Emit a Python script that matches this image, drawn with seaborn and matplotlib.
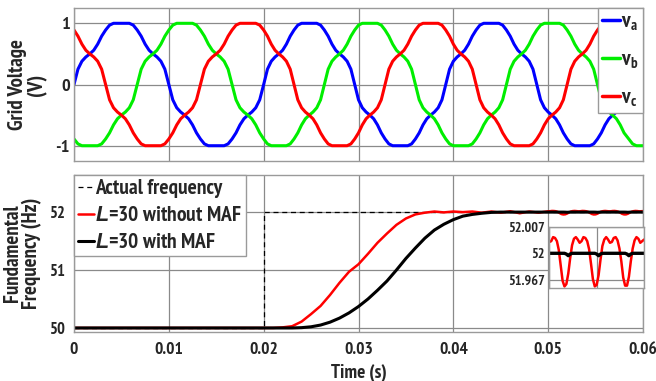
import numpy as np
import pandas as pd
import matplotlib
matplotlib.use("Agg")
import matplotlib.pyplot as plt
from matplotlib import font_manager as fm
import seaborn as sns

# ---------------- data ----------------
# one cycle of the (distorted) phase voltage, sampled every 7.5 degrees
wave_shape = [0.00, 0.25, 0.38, 0.45, 0.50, 0.56, 0.66, 0.79, 0.89, 0.97, 1.00, 1.00,
              1.00, 1.00, 1.00, 0.97, 0.89, 0.79, 0.66, 0.56, 0.50, 0.45, 0.38, 0.25,
              0.00, -0.25, -0.38, -0.45, -0.50, -0.56, -0.66, -0.79, -0.89, -0.97, -1.00, -1.00,
              -1.00, -1.00, -1.00, -0.97, -0.89, -0.79, -0.66, -0.56, -0.50, -0.45, -0.38, -0.25]
cycle_start_s = [0.0, 0.0200, 0.0392, 0.0585]
cycle_period_s = [0.0200, 0.0192, 0.0192, 0.0192]
phase_labels = ["v$_\\mathrm{a}$", "v$_\\mathrm{b}$", "v$_\\mathrm{c}$"]
phase_shift_samples = [0, 16, -16]
phase_colors = ["#0000ff", "#00ee00", "#ff0000"]

# frequency estimates, 1 ms steps from 0 to 49 ms
t_coarse_ms = list(range(0, 50))
red_coarse_hz = [50.0, 50.0, 50.0, 50.0, 50.0, 50.0, 50.0, 50.0, 50.0, 50.0,
                 50.0, 50.0, 50.0, 50.0, 50.0, 50.0, 50.0, 50.0, 50.0, 50.0,
                 50.0, 50.0, 50.01, 50.03, 50.11, 50.24, 50.38, 50.57, 50.78, 50.97,
                 51.10, 51.28, 51.47, 51.63, 51.78, 51.89, 51.96, 51.99, 52.01, 51.995,
                 52.01, 52.0, 52.01, 51.99, 52.01, 51.99, 52.015, 51.98, 52.01, 51.99]
black_coarse_hz = [50.0, 50.0, 50.0, 50.0, 50.0, 50.0, 50.0, 50.0, 50.0, 50.0,
                   50.0, 50.0, 50.0, 50.0, 50.0, 50.0, 50.0, 50.0, 50.0, 50.0,
                   50.0, 50.0, 50.0, 50.0, 50.005, 50.02, 50.05, 50.10, 50.17, 50.26,
                   50.37, 50.50, 50.65, 50.81, 51.00, 51.20, 51.38, 51.55, 51.69, 51.79,
                   51.87, 51.93, 51.96, 51.98, 51.995, 52.0, 52.0, 52.0, 52.0, 52.0]
# 0.2 ms steps from 50 ms to 60 ms (steady state, shown in the inset)
t_fine_ms = [50.0 + 0.2 * i for i in range(51)]
red_fine_hz = [52.014, 52.015, 52.020, 52.019, 52.015, 52.004, 51.985, 51.966, 51.959, 51.962,
               51.975, 51.994, 52.010, 52.018, 52.020, 52.017, 52.013, 52.015, 52.020, 52.019,
               52.015, 52.005, 51.987, 51.968, 51.959, 51.961, 51.973, 51.992, 52.009, 52.017,
               52.020, 52.017, 52.013, 52.014, 52.019, 52.020, 52.016, 52.006, 51.990, 51.970,
               51.960, 51.960, 51.971, 51.990, 52.006, 52.016, 52.020, 52.018, 52.013, 52.015,
               52.017]
black_fine_hz = [52.0, 52.0, 52.0, 52.0, 52.0, 52.0, 52.0, 52.0, 52.0, 51.999,
                 51.997, 51.999, 52.0, 52.0, 52.0, 52.0, 52.0, 52.0, 52.0, 52.0,
                 52.0, 52.0, 52.0, 52.0, 52.0, 51.999, 51.997, 51.999, 52.0, 52.0,
                 52.0, 52.0, 52.0, 52.0, 52.0, 52.0, 52.0, 52.0, 52.0, 52.0,
                 52.0, 51.999, 51.997, 51.999, 52.0, 52.0, 52.0, 52.0, 52.0, 52.0,
                 52.0]
actual_t_s = [0.0, 0.02, 0.02, 0.06]
actual_hz = [50.0, 50.0, 52.0, 52.0]
freq_labels = ["Actual frequency", "$\\mathit{L}$=30 without MAF", "$\\mathit{L}$=30 with MAF"]

x_ticks = [0, 0.01, 0.02, 0.03, 0.04, 0.05, 0.06]
x_ticklabels = ["0", "0.01", "0.02", "0.03", "0.04", "0.05", "0.06"]
inset_ticks = [51.967, 52.0, 52.0329]
inset_ticklabels = ["51.967", "52", "52.007"]

# ---------------- assemble series ----------------
n = len(wave_shape)
t_wave, phase_vals = [], [[], [], []]
for start, per in zip(cycle_start_s, cycle_period_s):
    t_wave.extend(start + per * np.arange(n) / n)
    for k, sh in enumerate(phase_shift_samples):
        phase_vals[k].extend(np.roll(wave_shape, sh))
t_wave = np.array(t_wave)

t_freq = np.array(t_coarse_ms + t_fine_ms) / 1000.0
red_hz = np.array(red_coarse_hz + red_fine_hz)
black_hz = np.array(black_coarse_hz + black_fine_hz)
t_fine = np.array(t_fine_ms) / 1000.0

# ---------------- font choice: a real bold narrow sans if installed ----------------
def _w(e):
    w = e.weight
    if isinstance(w, str):
        return fm.weight_dict.get(w, 400)
    return int(w)

bold_names = set(e.name for e in fm.fontManager.ttflist if _w(e) >= 700 and e.style == "normal")
font_name = "Liberation Sans"
narrow = False
for cand in ["Liberation Sans Narrow", "Arial Narrow", "PT Sans Narrow", "Pragati Narrow",
             "Fira Sans Condensed", "Roboto Condensed", "Asap Condensed",
             "Archivo Narrow", "Encode Sans Condensed", "Barlow Semi Condensed"]:
    if cand in bold_names:
        font_name = cand
        narrow = True
        break
S = 1.2 if narrow else 1.0

# ---------------- style ----------------
sns.set_theme(style="whitegrid")
plt.rcParams["font.family"] = [font_name, "DejaVu Sans"]
plt.rcParams["font.weight"] = "bold"
plt.rcParams["axes.unicode_minus"] = False
plt.rcParams["mathtext.fontset"] = "custom"
plt.rcParams["mathtext.rm"] = font_name + ":bold"
plt.rcParams["mathtext.it"] = "Liberation Sans:bold:italic"
plt.rcParams["mathtext.bf"] = font_name + ":bold"

grid_c = "#8a8a8a"
spine_c = "#9a9a9a"

fig = plt.figure(figsize=(6.56, 3.81), dpi=100)
ax1 = fig.add_axes([0.1128, 0.5774, 0.8674, 0.4016])
ax2 = fig.add_axes([0.1128, 0.1286, 0.8674, 0.412])

for ax in (ax1, ax2):
    ax.set_facecolor("white")
    ax.grid(True, color=grid_c, lw=0.9)
    for s in ax.spines.values():
        s.set_color(spine_c)
        s.set_linewidth(1.0)
    ax.set_xlim(0, 0.06)
    ax.set_xticks(x_ticks)

# top panel
for k in range(3):
    sns.lineplot(x=t_wave, y=phase_vals[k], color=phase_colors[k], lw=2.2,
                 label=phase_labels[k], ax=ax1, estimator=None, sort=False)
ax1.set_ylim(-1.25, 1.25)
ax1.set_yticks([-1, 0, 1])
ax1.set_xticklabels([])
ax1.tick_params(axis="both", length=0, labelsize=11 * S, pad=3)
ax1.set_ylabel("Grid Voltage\n(V)", fontsize=12.5 * S, fontweight="bold", linespacing=1.0)
ax1.yaxis.set_label_coords(-0.0475, 0.5)
ax1.set_xlabel("")
if narrow:
    leg1_kw = dict(handlelength=0.85, handletextpad=0.05, borderpad=0.2, labelspacing=0.8,
                   prop={"size": 15.5, "weight": "bold"})
else:
    leg1_kw = dict(handlelength=0.95, handletextpad=0.05, borderpad=0.2, labelspacing=0.75,
                   prop={"size": 14, "weight": "bold"})
leg1 = ax1.legend(loc="upper right", borderaxespad=0, frameon=True, fancybox=False,
                  edgecolor=spine_c, framealpha=1, **leg1_kw)
for h in leg1.get_lines():
    h.set_linewidth(2.5)

# bottom panel
sns.lineplot(x=actual_t_s, y=actual_hz, color="black", lw=0.9, ls=(0, (4, 3)),
             label=freq_labels[0], ax=ax2, estimator=None, sort=False)
sns.lineplot(x=t_freq, y=red_hz, color="#ff0000", lw=1.8, label=freq_labels[1],
             ax=ax2, estimator=None, sort=False)
sns.lineplot(x=t_freq, y=black_hz, color="black", lw=2.2, label=freq_labels[2],
             ax=ax2, estimator=None, sort=False)
ax2.set_ylim(49.93, 52.64)
ax2.set_yticks([50, 51, 52])
ax2.set_xticklabels(x_ticklabels)
ax2.tick_params(axis="y", length=0, labelsize=10 * S, pad=6.5)
ax2.tick_params(axis="x", length=0, labelsize=10.5 * S, pad=7)
ax2.set_ylabel("Fundamental\nFrequency (Hz)", fontsize=12.5 * S, fontweight="bold", linespacing=1.0)
ax2.yaxis.set_label_coords(-0.056, 0.5)
ax2.set_xlabel("Time (s)", fontsize=11.5 * S, fontweight="bold", labelpad=4)
if narrow:
    leg2_kw = dict(handlelength=0.75, handletextpad=0.02, borderpad=0.2, labelspacing=0.36,
                   prop={"size": 15.5, "weight": "bold"})
else:
    leg2_kw = dict(handlelength=0.9, handletextpad=0.1, borderpad=0.25, labelspacing=0.45,
                   prop={"size": 12.5, "weight": "bold"})
leg2 = ax2.legend(loc="upper left", borderaxespad=0, frameon=True, fancybox=False,
                  edgecolor=spine_c, framealpha=1, **leg2_kw)

# inset
axin = fig.add_axes([0.8374, 0.2433, 0.1444, 0.1617])
axin.set_facecolor("white")
sns.lineplot(x=t_fine, y=red_fine_hz, color="#ff0000", lw=1.8, ax=axin,
             estimator=None, sort=False)
sns.lineplot(x=t_fine, y=black_fine_hz, color="black", lw=2.4, ax=axin,
             estimator=None, sort=False)
axin.set_xlim(0.05, 0.06)
axin.set_ylim(51.9567, 52.0329)
axin.set_xticks([0.05, 0.055, 0.06])
axin.set_xticklabels([])
axin.set_yticks(inset_ticks)
axin.set_yticklabels(inset_ticklabels)
axin.tick_params(axis="both", length=0, labelsize=8.5 * S, pad=3)
axin.grid(True, color=grid_c, lw=0.9)
for s in axin.spines.values():
    s.set_color(spine_c)
    s.set_linewidth(1.0)
axin.set_xlabel("")
axin.set_ylabel("")

fig.savefig("out.png", dpi=100)
